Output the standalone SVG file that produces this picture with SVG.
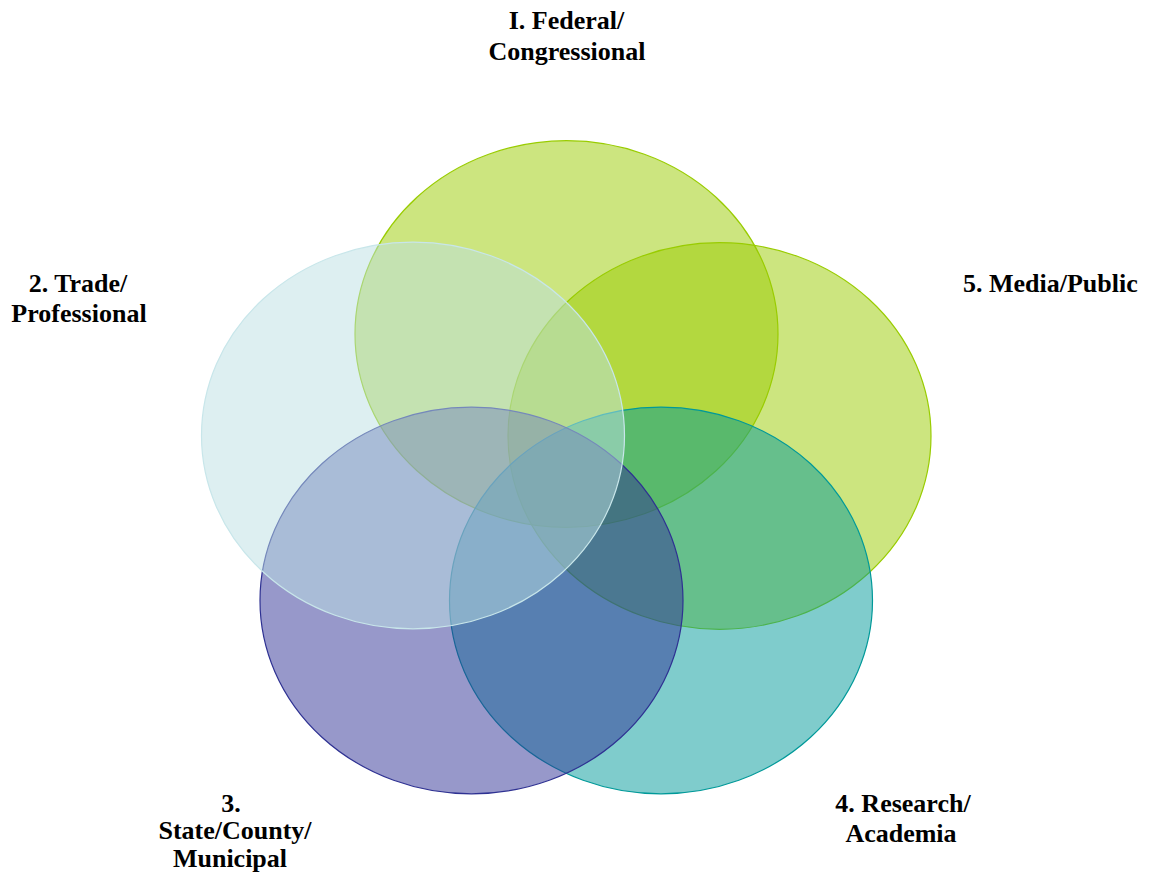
<svg xmlns="http://www.w3.org/2000/svg" width="1149" height="880" viewBox="0 0 1149 880">
<style>
  .lbl { font-family: "Liberation Serif", "Times New Roman", serif; font-weight: bold; font-size: 26px; fill: #000; }
  .c { text-anchor: middle; }
  ellipse { stroke-width: 1.2; }
  .fed { fill: #99cc00; fill-opacity: 0.5; stroke: #99cc00; }
  .med { fill: #99cc00; fill-opacity: 0.5; stroke: #99cc00; }
  .res { fill: #009999; fill-opacity: 0.5; stroke: #009999; }
  .sta { fill: #2f3195; fill-opacity: 0.5; stroke: #2e3192; }
  .tra { fill: #bbdfe3; fill-opacity: 0.5; stroke: #c8e6ea; }
</style>
<rect width="1149" height="880" fill="#ffffff"/>
<g id="node-federal">
  <ellipse class="fed" cx="566.5" cy="334" rx="211.5" ry="193.3"/>
  <text class="lbl c" x="566.5" y="29">I. Federal/</text>
  <text class="lbl c" x="567" y="60">Congressional</text>
</g>
<g id="node-media">
  <ellipse class="med" cx="719.5" cy="436" rx="211.5" ry="193.3"/>
  <text class="lbl" x="963" y="292">5. Media/Public</text>
</g>
<g id="node-research">
  <ellipse class="res" cx="661" cy="600.5" rx="211.5" ry="193.3"/>
  <text class="lbl c" x="903" y="812">4. Research/</text>
  <text class="lbl c" x="901" y="842">Academia</text>
</g>
<g id="node-state">
  <ellipse class="sta" cx="471.5" cy="600.5" rx="211.5" ry="193.3"/>
  <text class="lbl c" x="231" y="812">3.</text>
  <text class="lbl c" x="235" y="839">State/County/</text>
  <text class="lbl c" x="230" y="867">Municipal</text>
</g>
<g id="node-trade">
  <ellipse class="tra" cx="413" cy="435.5" rx="211.5" ry="193.3"/>
  <text class="lbl c" x="78" y="292">2. Trade/</text>
  <text class="lbl c" x="79" y="322">Professional</text>
</g>
<g id="connectors"></g>
</svg>
